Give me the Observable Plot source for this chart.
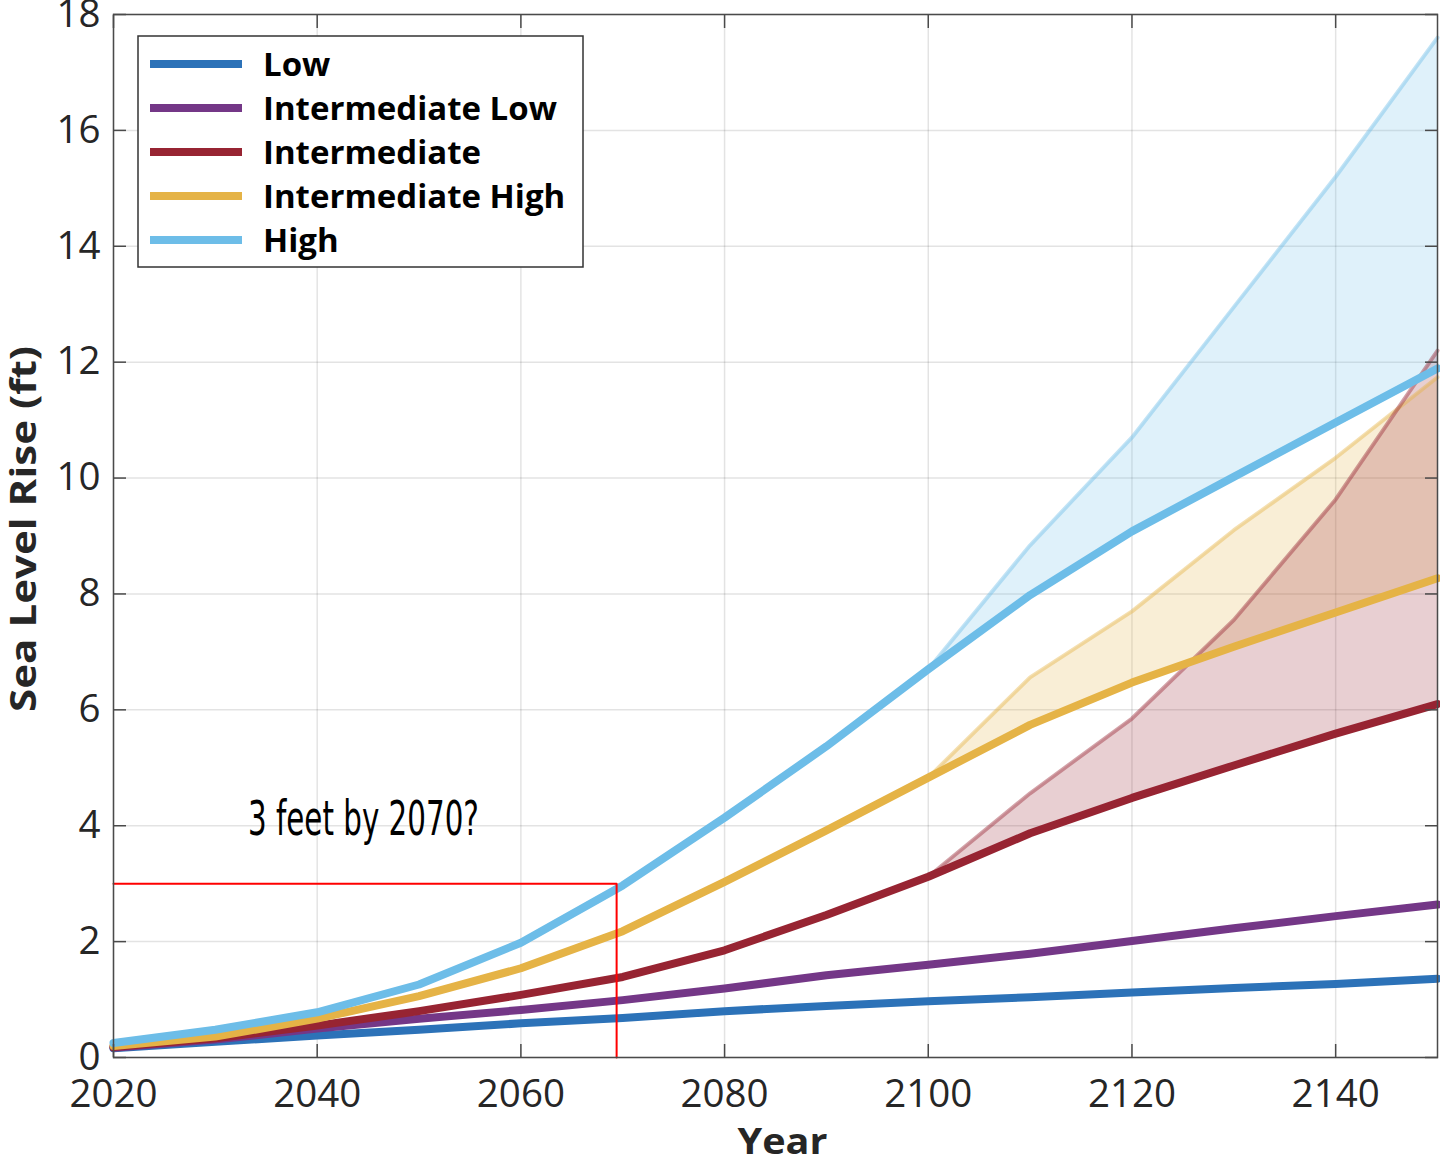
<!DOCTYPE html>
<html><head><meta charset="utf-8">
<script src="https://cdn.jsdelivr.net/npm/d3@7"></script>
<script src="https://cdn.jsdelivr.net/npm/@observablehq/plot@0.6"></script>
<style>body{margin:0;background:#fff} #chart{width:1440px;height:1160px}</style>
</head><body><div id="chart"></div>
<script>
// ---- Data ----
const years = [2020, 2030, 2040, 2050, 2060, 2070, 2080, 2090, 2100, 2110, 2120, 2130, 2140, 2150];
const low          = [0.16, 0.27, 0.38, 0.48, 0.59, 0.68, 0.80, 0.89, 0.97, 1.04, 1.12, 1.20, 1.27, 1.36];
const intermediateLow  = [0.17, 0.31, 0.50, 0.67, 0.82, 0.99, 1.19, 1.42, 1.60, 1.79, 2.01, 2.23, 2.44, 2.64];
const intermediate     = [0.18, 0.33, 0.55, 0.80, 1.08, 1.39, 1.85, 2.46, 3.12, 3.87, 4.48, 5.04, 5.59, 6.10];
const intermediateHigh = [0.20, 0.36, 0.67, 1.06, 1.54, 2.18, 3.03, 3.92, 4.83, 5.74, 6.47, 7.09, 7.68, 8.27];
const high             = [0.25, 0.48, 0.78, 1.26, 1.98, 2.97, 4.14, 5.37, 6.70, 7.98, 9.08, 10.02, 10.96, 11.89];

const bandYears = [2100, 2110, 2120, 2130, 2140, 2150];
const intermediateUpper     = [3.12, 4.56, 5.85, 7.55, 9.63, 12.20];
const intermediateHighUpper = [4.83, 6.56, 7.70, 9.10, 10.35, 11.74];
const highUpper             = [6.70, 8.84, 10.70, 12.95, 15.20, 17.60];

const scenarioNames = ["Low", "Intermediate Low", "Intermediate", "Intermediate High", "High"];
const scenarioColors = ["#2c72b8", "#743787", "#972432", "#e5b346", "#6dbde8"];
const scenarioValues = [low, intermediateLow, intermediate, intermediateHigh, high];

const xTicks = [2020, 2040, 2060, 2080, 2100, 2120, 2140];
const yTicks = [0, 2, 4, 6, 8, 10, 12, 14, 16, 18];

const highlight = [{year: 2020, ft: 3}, {year: 2069.4, ft: 3}, {year: 2069.4, ft: 0}];
const annotation = [{year: 2033.2, ft: 4.1, label: "3 feet by 2070?"}];
const xLabel = "Year";
const yLabel = "Sea Level Rise (ft)";

// ---- Derived tables ----
const rows = scenarioNames.flatMap((name, s) => years.map((year, i) => ({scenario: name, year, ft: scenarioValues[s][i]})));
const bandDefs = [
  {name: "Intermediate High", base: intermediateHigh, upper: intermediateHighUpper, color: scenarioColors[3]},
  {name: "Intermediate", base: intermediate, upper: intermediateUpper, color: scenarioColors[2]},
  {name: "High", base: high, upper: highUpper, color: scenarioColors[4]}
];
const bandRows = bandDefs.flatMap(b => bandYears.map((year, i) => ({
  scenario: b.name, year, lo: b.base[years.indexOf(year)], hi: b.upper[i], color: b.color
})));

const colorScale = {domain: scenarioNames, range: scenarioColors};

const frameStroke = "#4a4a4a";
const plot = Plot.plot({
  width: 1440, height: 1160,
  marginLeft: 113, marginRight: 3, marginTop: 14, marginBottom: 103,
  x: {domain: [2020, 2150]},
  y: {domain: [0, 18]},
  color: colorScale,
  style: {fontFamily: "'Open Sans', sans-serif", color: "#262626", background: "white", overflow: "visible"},
  marks: [
    Plot.gridX(xTicks, {stroke: "#000", strokeOpacity: 0.11, strokeWidth: 1.5}),
    Plot.gridY(yTicks, {stroke: "#000", strokeOpacity: 0.11, strokeWidth: 1.5}),
    ...bandDefs.map(b => Plot.areaY(bandRows.filter(r => r.scenario === b.name), {
      x: "year", y1: "lo", y2: "hi", fill: b.color, fillOpacity: 0.22
    })),
    ...bandDefs.map(b => Plot.line(bandRows.filter(r => r.scenario === b.name), {
      x: "year", y: "hi", stroke: b.color, strokeOpacity: 0.42, strokeWidth: 4
    })),
    Plot.line(rows, {x: "year", y: "ft", z: "scenario", stroke: "scenario", strokeWidth: 8, strokeLinejoin: "round"}),
    Plot.line(highlight, {x: "year", y: "ft", stroke: "#ff0000", strokeWidth: 2}),
    Plot.text(annotation, {x: "year", y: "ft", text: "label", textAnchor: "start", fontSize: 48,
      fontFamily: "'DejaVu Sans Condensed', 'Liberation Sans Narrow', sans-serif", fill: "#000"}),
    Plot.frame({stroke: frameStroke, strokeWidth: 1.5}),
    Plot.axisX(xTicks, {anchor: "bottom", tickSize: -13, fill: "none", stroke: frameStroke, strokeWidth: 1.5, label: null}),
    Plot.axisX(xTicks, {anchor: "top", tickSize: -13, fill: "none", stroke: frameStroke, strokeWidth: 1.5, label: null}),
    Plot.axisY(yTicks, {anchor: "left", tickSize: -13, fill: "none", stroke: frameStroke, strokeWidth: 1.5, label: null}),
    Plot.axisY(yTicks, {anchor: "right", tickSize: -13, fill: "none", stroke: frameStroke, strokeWidth: 1.5, label: null}),
    Plot.axisX(xTicks, {anchor: "bottom", tickSize: 0, tickPadding: 22, fontSize: 38.5, label: null, fill: "#262626", tickFormat: d => String(d)}),
    Plot.axisY(yTicks, {anchor: "left", tickSize: 0, tickPadding: 13, fontSize: 38.5, label: null, fill: "#262626", tickFormat: d => String(d)}),
    Plot.text([xLabel], {frameAnchor: "bottom", textAnchor: "middle", lineAnchor: "middle", dy: 85, dx: 7, fontSize: 35, fontWeight: "bold", fill: "#262626"}),
    Plot.text([yLabel], {frameAnchor: "left", textAnchor: "middle", lineAnchor: "middle", dx: -89, dy: -7, rotate: -90, fontSize: 36, fontWeight: "bold", fill: "#262626"})
  ]
});

document.getElementById("chart").appendChild(plot);

// Condense / stretch a few texts to match the original font metrics
const fitText = (label, len) => d3.select(plot).selectAll("text")
  .filter(function() { return this.textContent === label; })
  .attr("textLength", len).attr("lengthAdjust", "spacingAndGlyphs");
fitText(annotation[0].label, 231);
fitText(yLabel, 366);
fitText(xLabel, 90);

// Legend
const svg = d3.select(plot);
const lg = svg.append("g").attr("class", "legend").attr("text-anchor", "start");
lg.append("rect").attr("x", 138).attr("y", 36).attr("width", 445).attr("height", 231)
  .attr("fill", "white").attr("stroke", "#333").attr("stroke-width", 1.5);
scenarioNames.forEach((name, i) => {
  const cy = 64 + i * 44;
  lg.append("line").attr("x1", 150).attr("x2", 242).attr("y1", cy).attr("y2", cy)
    .attr("stroke", scenarioColors[i]).attr("stroke-width", 8);
  lg.append("text").attr("x", 263).attr("y", cy).attr("dy", "0.36em").attr("text-anchor", "start")
    .attr("font-family", "'Open Sans', sans-serif").attr("font-weight", "bold").attr("font-size", 33)
    .attr("fill", "#000").text(name);
});
</script>
</body></html>
